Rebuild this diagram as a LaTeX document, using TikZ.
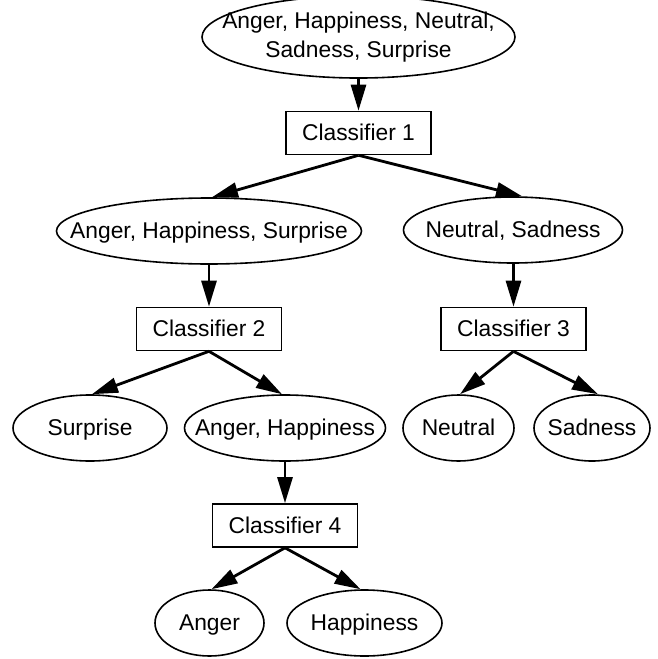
\documentclass[tikz,border=0pt]{standalone}
\usepackage{fontspec}
\setmainfont{Liberation Sans}
\usetikzlibrary{arrows.meta,positioning,shapes.geometric}
\newcommand{\slim}[1]{\makebox[0pt]{#1}}

\begin{document}
\begin{tikzpicture}[x=1pt, y=-1pt,
    oval/.style={ellipse, draw, line width=1.6pt, inner sep=0pt, minimum height=66pt, font=\fontsize{22.8}{29}\selectfont},
    group/.style={oval, text height=18pt, text depth=3pt},
    clf/.style={draw, line width=1.6pt, inner sep=0pt, minimum width=145pt, minimum height=43pt, text height=18pt, text depth=3pt, font=\fontsize{22.8}{29}\selectfont},
    link/.style={-{Triangle[length=26pt, width=15pt]}, line width=2.8pt}
  ]
  \useasboundingbox (0,0) rectangle (657,659);
  \node[oval, minimum width=313pt] (all) at (358.5,37) {\slim{\begin{tabular}{@{}c@{}}Anger, Happiness, Neutral,\\ Sadness, Surprise\end{tabular}}};
  \node[clf] (c1) at (358.5,133) {Classifier 1};

  \node[group, minimum width=305pt] (ahs) at (209,231) {\slim{Anger, Happiness, Surprise}};
  \node[group, minimum width=219pt] (ns) at (513,230) {\slim{Neutral, Sadness}};
  \node[clf] (c2) at (209,329) {Classifier 2};
  \node[clf] (c3) at (513.5,329) {Classifier 3};

  \node[group, minimum width=154pt] (sur) at (90,428) {\slim{Surprise}};
  \node[group, minimum width=201pt] (ah) at (285,428) {\slim{Anger, Happiness}};
  \node[group, minimum width=111pt] (neu) at (458.5,428) {\slim{Neutral}};
  \node[group, minimum width=116pt] (sad) at (592,428) {\slim{Sadness}};
  \node[clf] (c4) at (285,525.5) {Classifier 4};

  \node[group, minimum width=109pt] (ang) at (209.5,623) {\slim{Anger}};
  \node[group, minimum width=155pt] (hap) at (364.5,623) {\slim{Happiness}};

  \draw[link] (all) -- (c1);
  \draw[link] (c1.south) -- ([xshift=3pt]ahs.north);
  \draw[link] (c1.south) -- ([xshift=9pt]ns.north);
  \draw[link] (ahs) -- (c2);
  \draw[link] (ns.south -| c3.north) -- (c3.north);
  \draw[link] (c2.south) -- ([xshift=2pt]sur.north);
  \draw[link] (c2.south) -- ([xshift=-3pt]ah.north);
  \draw[link] (c3.south) -- ([xshift=1.5pt]neu.north);
  \draw[link] (c3.south) -- ([xshift=6pt]sad.north);
  \draw[link] (ah) -- (c4);
  \draw[link] (c4.south) -- ([xshift=2pt]ang.north);
  \draw[link] (c4.south) -- ([xshift=-4pt]hap.north);
\end{tikzpicture}
\end{document}
